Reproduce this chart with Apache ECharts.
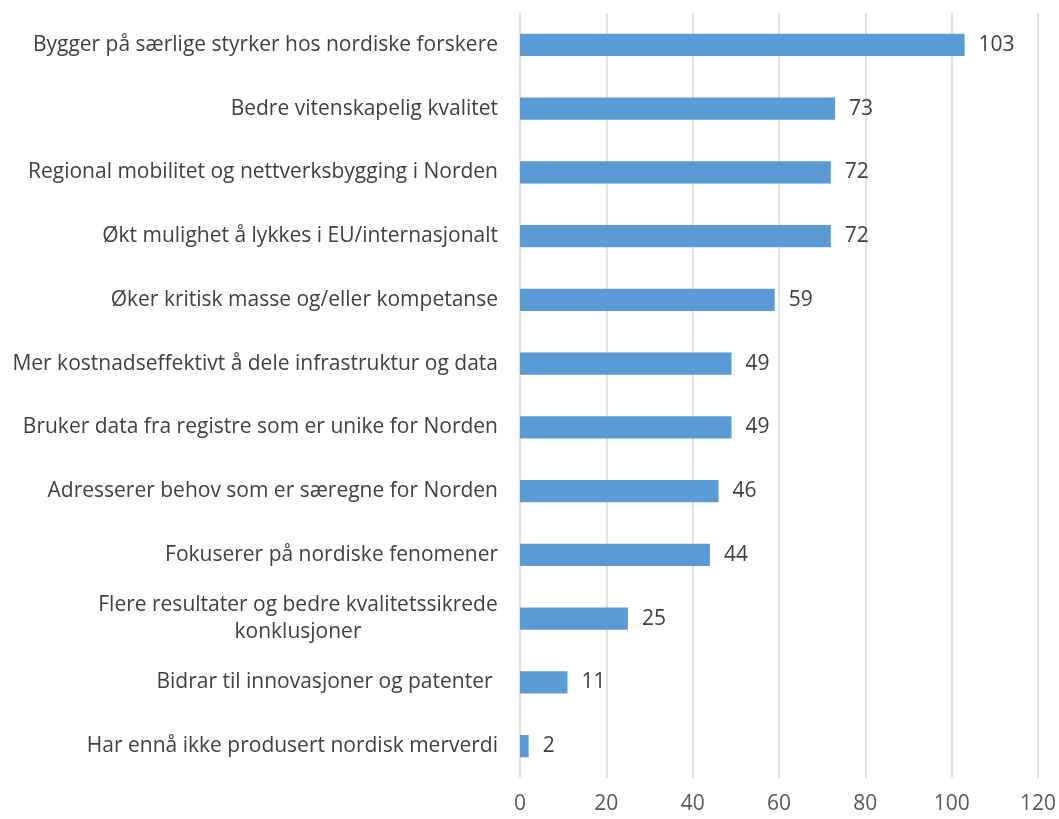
<!DOCTYPE html>
<html><head><meta charset="utf-8">
<script src="https://cdn.jsdelivr.net/npm/echarts@6/dist/echarts.min.js"></script>
<style>html,body{margin:0;padding:0;background:#fff}#c{width:1059px;height:819px}</style>
</head><body><div id="c"></div>
<script>
const categories = [
  "Bygger på særlige styrker hos nordiske forskere",
  "Bedre vitenskapelig kvalitet",
  "Regional mobilitet og nettverksbygging i Norden",
  "Økt mulighet å lykkes i EU/internasjonalt",
  "Øker kritisk masse og/eller kompetanse",
  "Mer kostnadseffektivt å dele infrastruktur og data",
  "Bruker data fra registre som er unike for Norden",
  "Adresserer behov som er særegne for Norden",
  "Fokuserer på nordiske fenomener",
  "Flere resultater og bedre kvalitetssikrede\nkonklusjoner",
  "Bidrar til innovasjoner og patenter ",
  "Har ennå ikke produsert nordisk merverdi"
];
const values = [103, 73, 72, 72, 59, 49, 49, 46, 44, 25, 11, 2];
const xTicks = [0, 20, 40, 60, 80, 100, 120];

const font = 'Open Sans';
const fs = 21;
const ctx = document.createElement('canvas').getContext('2d');
ctx.font = fs + 'px "' + font + '"';
function tw(s) { return Math.ceil(ctx.measureText(s).width); }

const chart = echarts.init(document.getElementById('c'));
chart.setOption({
  animation: false,
  grid: { left: 520, right: 17, top: 13, bottom: 41, containLabel: false },
  xAxis: {
    type: 'value', min: xTicks[0], max: xTicks[xTicks.length-1], interval: 20,
    axisLine: { show: false }, axisTick: { show: false },
    splitLine: { lineStyle: { color: '#d9d9d9', width: 1.5 } },
    axisLabel: { color: '#595959', fontSize: fs, fontFamily: font, margin: 16 }
  },
  yAxis: {
    type: 'category', inverse: true, data: categories,
    axisLine: { show: false }, axisTick: { show: false },
    axisLabel: {
      color: '#404040', fontSize: fs, fontFamily: font, margin: 22, lineHeight: 27,
      formatter: function (v) {
        if (v.indexOf('\n') >= 0) {
          const lines = v.split('\n');
          const w = Math.max.apply(null, lines.map(tw));
          return lines.map(s => '{c' + w + '|' + s + '}').join('\n');
        }
        return v;
      },
      rich: (function () {
        const r = {};
        categories.filter(c => c.indexOf('\n') >= 0).forEach(c => {
          const w = Math.max.apply(null, c.split('\n').map(tw));
          r['c' + w] = { width: w, align: 'center', fontSize: fs, fontFamily: font, color: '#404040', lineHeight: 27 };
        });
        return r;
      })()
    }
  },
  series: [{
    type: 'bar', data: values, barCategoryGap: '65%',
    itemStyle: { color: '#5b9bd5' },
    label: { show: true, position: 'right', distance: 14, color: '#404040', fontSize: fs, fontFamily: font }
  }]
});
</script></body></html>
